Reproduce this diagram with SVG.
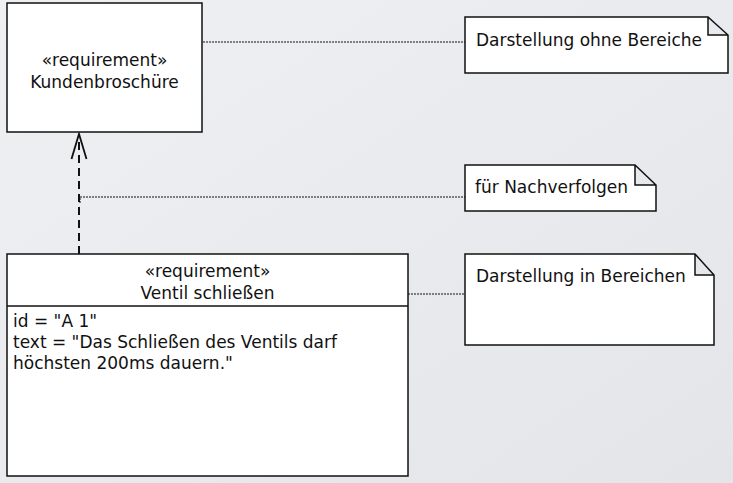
<svg xmlns="http://www.w3.org/2000/svg" width="733" height="483" viewBox="0 0 733 483">
<defs>
<linearGradient id="bg" x1="0" y1="0" x2="1" y2="1">
<stop offset="0" stop-color="#eef0f2"/>
<stop offset="1" stop-color="#e3e5e9"/>
</linearGradient>
<style>
text{font-family:"DejaVu Sans","Liberation Sans",sans-serif;font-size:17px;fill:#111}
.c{text-anchor:middle}
.box{fill:#fff;stroke:#111;stroke-width:1.5}
.dot{fill:none;stroke:#111;stroke-width:1;stroke-dasharray:2 1}
.dash{fill:none;stroke:#111;stroke-width:2;stroke-dasharray:8 5}
.head{fill:none;stroke:#111;stroke-width:1.8}
</style>
</defs>
<rect width="733" height="483" fill="url(#bg)"/>
<g id="connectors">
<line class="dash" x1="79" y1="254" x2="79" y2="136"/>
<polyline class="head" points="71.5,159 79,134 86.5,159"/>
<line class="dot" x1="203" y1="42" x2="465" y2="42"/>
<polyline class="dot" points="80,203 80,197 465,197"/>
<line class="dot" x1="408" y1="294" x2="465" y2="294"/>
</g>
<g id="kundenbroschuere">
<rect class="box" x="7" y="3" width="195" height="129"/>
<text class="c" x="104.5" y="66">«requirement»</text>
<text class="c" x="104.5" y="88">Kundenbroschüre</text>
</g>
<g id="ventil">
<rect class="box" x="7" y="254" width="401" height="222"/>
<line x1="7" y1="306" x2="408" y2="306" stroke="#111" stroke-width="1.5"/>
<text class="c" x="207.5" y="277">«requirement»</text>
<text class="c" x="207.5" y="299">Ventil schließen</text>
<text x="13" y="327">id = "A 1"</text>
<text x="13" y="348">text = "Das Schließen des Ventils darf</text>
<text x="13" y="369">höchsten 200ms dauern."</text>
</g>
<g id="note1">
<path class="box" d="M465,17 H708 L728,35 V73 H465 Z M708,17 V35 H728"/>
<text x="476" y="46">Darstellung ohne Bereiche</text>
</g>
<g id="note2">
<path class="box" d="M465,165 H635 L656,185 V211 H465 Z M635,165 V185 H656"/>
<text x="475" y="193">für Nachverfolgen</text>
</g>
<g id="note3">
<path class="box" d="M465,254 H695 L714,275 V345 H465 Z M695,254 V275 H714"/>
<text x="476" y="282">Darstellung in Bereichen</text>
</g>
</svg>
